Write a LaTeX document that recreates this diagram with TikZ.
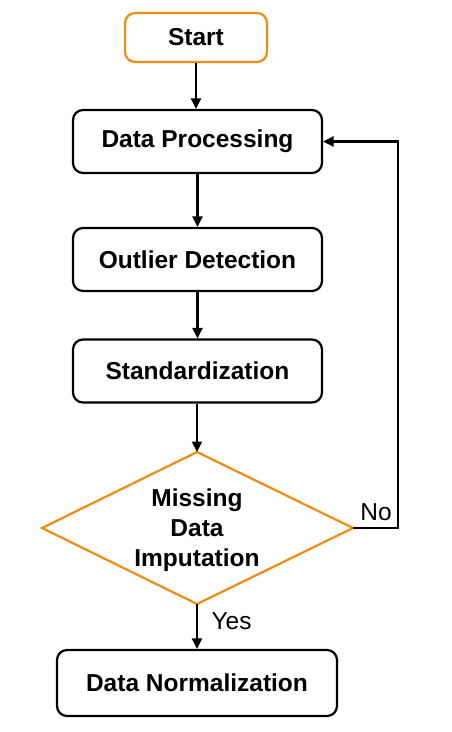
\documentclass[tikz,border=0pt]{standalone}
\usepackage{fontspec}
\setmainfont{Liberation Sans}
\usetikzlibrary{arrows.meta}
\definecolor{flowor}{RGB}{240,140,20}
\begin{document}
\begin{tikzpicture}[x=1pt,y=-1pt,
  procbox/.style={draw=black,line width=2.2pt,rounded corners=10pt,minimum width=249pt,minimum height=63pt,inner sep=0pt,font=\fontsize{24.5}{29}\selectfont\bfseries},
  startbox/.style={draw=flowor,line width=2.2pt,rounded corners=10pt,minimum width=142pt,minimum height=49pt,inner sep=0pt,font=\fontsize{24.5}{29}\selectfont\bfseries},
  decline/.style={draw=flowor,line width=2.2pt,line join=miter},
  dectext/.style={inner sep=0pt,align=center,font=\fontsize{24.5}{30}\selectfont\bfseries},
  flowarrow/.style={draw=black,line width=2.2pt,-{Triangle[length=10.5pt,width=10pt]}},
  lbl/.style={font=\fontsize{24.5}{29}\selectfont,inner sep=0pt}]
\useasboundingbox (0,0) rectangle (452,732);
\node[startbox] (start) at (196,37.5) {Start};
\node[procbox] (proc) at (197.5,141.5) {Data Processing};
\node[procbox] (outl) at (197.5,259.5) {Outlier Detection};
\node[procbox] (stand) at (197.5,371) {Standardization};
\coordinate (mtop) at (197,452);
\coordinate (mleft) at (42,528);
\coordinate (mright) at (353,528);
\coordinate (mbot) at (197,604);
\draw[decline] (mtop) -- (mright) -- (mbot) -- (mleft) -- cycle;
\node[dectext] (miss) at (197,530) {Missing\\Data\\Imputation};
\node[procbox,minimum width=280pt,minimum height=66pt] (norm) at (197,683) {Data Normalization};
\coordinate (c1) at (398,528);
\coordinate (c2) at (398,141.5);
\draw[flowarrow] (start.south) -- (start.south |- proc.north);
\draw[flowarrow] (proc.south -| outl.north) -- (outl.north);
\draw[flowarrow] (outl.south) -- (stand.north);
\draw[flowarrow] (stand.south -| mtop) -- (mtop);
\draw[flowarrow] (mbot) -- (mbot |- norm.north);
\draw[flowarrow] (mright) -- (c1) -- (c2) -- (proc.east);
\node[lbl] (nolbl) at (376,512) {No};
\node[lbl] (yeslbl) at (231.5,621) {Yes};
\end{tikzpicture}
\end{document}
